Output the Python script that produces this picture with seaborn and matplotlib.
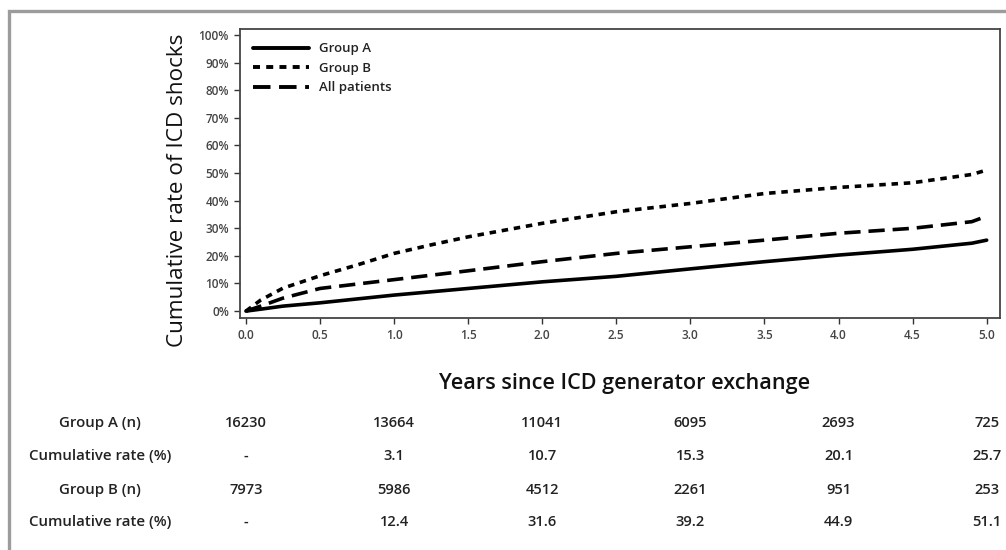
import pandas as pd
import seaborn as sns
import matplotlib.pyplot as plt
from matplotlib.patches import Rectangle
from matplotlib.transforms import blended_transform_factory

# curve readings (years, cumulative % of ICD shocks)
years = [0, 0.1, 0.25, 0.5, 0.75, 1.0, 1.25, 1.5, 2.0, 2.5, 3.0, 3.5, 4.0, 4.5, 4.9, 5.0]
group_a = [0, 0.7, 1.8, 3.0, 4.4, 5.8, 7.0, 8.2, 10.6, 12.6, 15.3, 17.9, 20.3, 22.4, 24.6, 25.7]
group_b = [0, 4.0, 8.3, 12.8, 16.7, 20.9, 24.0, 26.9, 31.8, 36.0, 39.0, 42.6, 44.8, 46.5, 49.5, 51.1]
all_patients = [0, 1.8, 4.7, 8.2, 9.8, 11.4, 13.0, 14.6, 17.9, 20.9, 23.3, 25.7, 28.2, 30.0, 32.4, 34.4]

series_names = ["Group A", "Group B", "All patients"]

# numbers-at-risk table under the chart
table_years = [0, 1, 2, 3, 4, 5]
row_labels = ["Group A (n)", "Cumulative rate (%)", "Group B (n)", "Cumulative rate (%)"]
group_a_n = ["16230", "13664", "11041", "6095", "2693", "725"]
group_a_rate = ["-", "3.1", "10.7", "15.3", "20.1", "25.7"]
group_b_n = ["7973", "5986", "4512", "2261", "951", "253"]
group_b_rate = ["-", "12.4", "31.6", "39.2", "44.9", "51.1"]


def build_frame():
    frames = []
    for name, values in zip(series_names, [group_a, group_b, all_patients]):
        frames.append(pd.DataFrame({"years": years, "rate": values, "group": name}))
    return pd.concat(frames, ignore_index=True)


def main():
    sns.set_style("ticks")
    plt.rcParams["font.family"] = ["Open Sans", "DejaVu Sans"]

    fig = plt.figure(figsize=(10.06, 5.5), dpi=100)
    ax = fig.add_axes([240 / 1006, 1 - 318 / 550, 760 / 1006, 289 / 550])

    df = build_frame()
    dashes = {"Group A": "", "Group B": (1.8, 1.6), "All patients": (4.5, 2.2)}
    palette = {name: "black" for name in series_names}
    sns.lineplot(data=df, x="years", y="rate", hue="group", style="group",
                 palette=palette, dashes=dashes, linewidth=2.6, ax=ax,
                 legend=False)

    handles = [plt.Line2D([], [], color="black", lw=2.8, dashes=d if d else (None, None))
               for d in [(), (1.8, 1.6), (4.5, 2.2)]]
    handles[0].set_linestyle("-")
    leg = ax.legend(handles, series_names, loc="upper left", frameon=False,
                    handlelength=4.2, labelspacing=0.5, borderaxespad=0.6,
                    prop={"size": 9.5, "weight": "semibold"})
    for t in leg.get_texts():
        t.set_color("#222222")

    ax.set_xlim(-0.04, 5.09)
    ax.set_ylim(-2.5, 102.2)
    xt = [i * 0.5 for i in range(11)]
    ax.set_xticks(xt)
    ax.set_xticklabels([f"{v:.1f}" for v in xt])
    yt = list(range(0, 101, 10))
    ax.set_yticks(yt)
    ax.set_yticklabels([f"{v}%" for v in yt])
    ax.tick_params(labelsize=8.5, labelcolor="#444444", length=4.5, width=1,
                   color="#333333", direction="out")
    for lab in ax.get_xticklabels() + ax.get_yticklabels():
        lab.set_fontweight("semibold")
    for s in ax.spines.values():
        s.set_visible(True)
        s.set_color("#444444")
        s.set_linewidth(1.3)

    ax.set_xlabel("")
    ax.set_ylabel("Cumulative rate of ICD shocks", fontsize=16.2, color="#111111")
    ax.yaxis.set_label_coords(-0.069, 0.443)
    fig.text(625 / 1006, 1 - 383 / 550, "Years since ICD generator exchange",
             ha="center", va="center", fontsize=15.6, fontweight="semibold",
             color="#111111")

    # table rows
    trans = blended_transform_factory(ax.transData, fig.transFigure)
    row_y = [423, 456, 490, 522]
    rows = [group_a_n, group_a_rate, group_b_n, group_b_rate]
    for label, y, vals in zip(row_labels, row_y, rows):
        fy = 1 - y / 550
        fig.text(100 / 1006, fy, label, ha="center", va="center", fontsize=10.8,
                 fontweight="semibold", color="#222222")
        for xv, v in zip(table_years, vals):
            ax.text(xv, fy, v, transform=trans, ha="center", va="center",
                    fontsize=10.5, fontweight="semibold", color="#222222",
                    clip_on=False)

    # grey frame around the picture (top and left edges visible)
    fig.add_artist(Rectangle((9 / 1006, -0.1), 1.2, 1 - 11 / 550 + 0.1,
                             transform=fig.transFigure, fill=False,
                             edgecolor="#9c9c9c", linewidth=2.4))

    fig.savefig("out.png", dpi=100)


if __name__ == '__main__':
    main()
